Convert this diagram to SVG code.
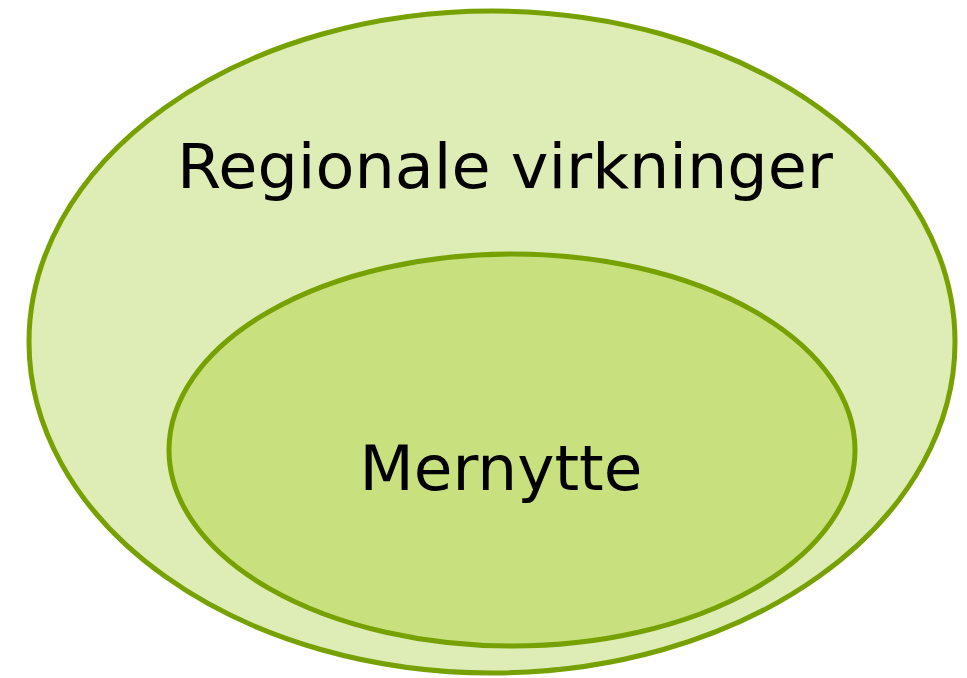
<svg xmlns="http://www.w3.org/2000/svg" width="967" height="678" viewBox="0 0 967 678">
<style>
.e{stroke:#76A100;stroke-width:5}
.t{font-family:"DejaVu Sans",Verdana,sans-serif;font-size:62px;fill:#000;text-anchor:middle}
</style>
<rect width="967" height="678" fill="#fff"/>
<g id="outer">
<ellipse class="e" cx="492" cy="342" rx="463" ry="331" fill="#DEEDB5"/>
<text class="t" x="505" y="188" textLength="656" lengthAdjust="spacingAndGlyphs">Regionale virkninger</text>
</g>
<g id="inner">
<ellipse class="e" cx="512" cy="450" rx="343" ry="196" fill="#C8E17E"/>
<text class="t" x="501" y="490" textLength="283" lengthAdjust="spacingAndGlyphs">Mernytte</text>
</g>
<g id="connectors"/>
</svg>
